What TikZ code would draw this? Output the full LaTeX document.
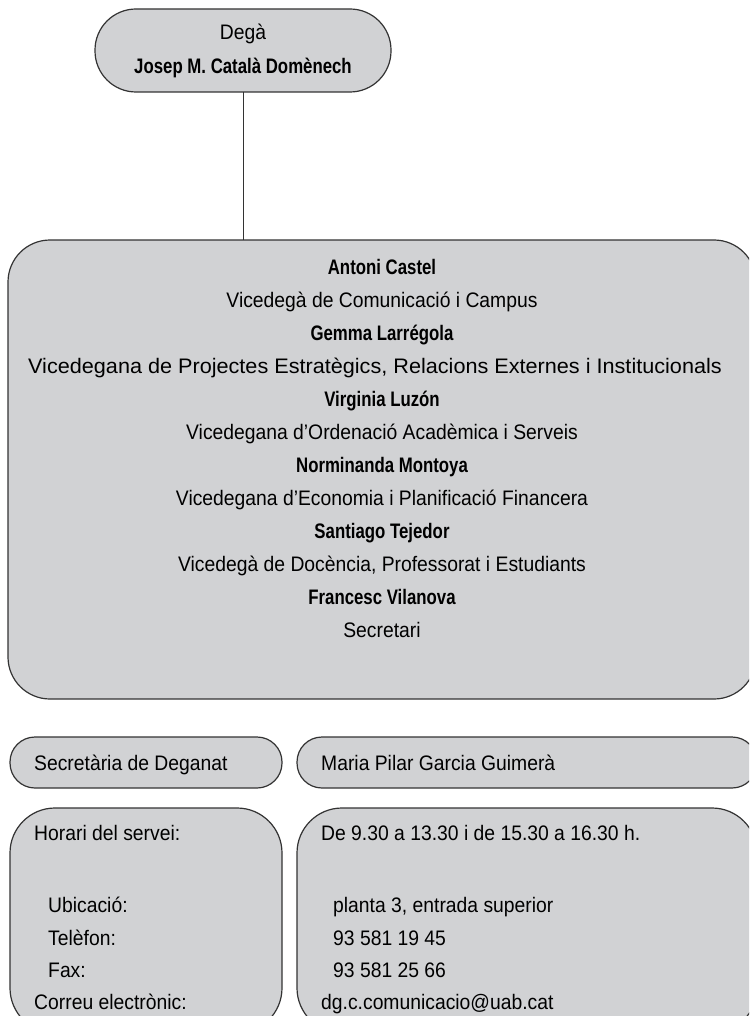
\documentclass[tikz,border=0pt]{standalone}
\usepackage{fontspec}
\setmainfont{Liberation Sans}[FakeStretch=0.92, BoldFeatures={FakeStretch=0.80}]
\definecolor{boxfill}{HTML}{D1D2D4}
\definecolor{boxline}{HTML}{333333}
\tikzset{
  panel/.style={draw=boxline, fill=boxfill, line width=1.2pt},
  txt/.style={inner sep=0pt, anchor=base, font=\fontsize{21}{25}\selectfont},
  txtl/.style={inner sep=0pt, anchor=base west, font=\fontsize{21}{25}\selectfont},
  person/.style={inner sep=0pt, anchor=base, font=\fontsize{21}{25}\selectfont\bfseries},
  link/.style={draw=boxline, line width=1pt}
}
\begin{document}
\begin{tikzpicture}[x=1pt,y=-1pt]
\useasboundingbox (0,0) rectangle (749,1016);
\clip (0,0) rectangle (749,1016);
% Dean box
\path[panel, rounded corners=41pt] (95,9) rectangle (391,92);
\coordinate (deanbot) at (243,92);
\node[txt] (dean) at (243,40) {Degà};
\node[person] (deanname) at (243,74) {Josep M. Català Domènech};
% main box
\path[panel, rounded corners=42pt] (8,240) rectangle (756,699);
\coordinate (maintop) at (243,240);
\draw[link] (deanbot) -- (maintop);
\node[person] (n1) at (382,274) {Antoni Castel};
\node[txt]  (r1) at (382,307) {Vicedegà de Comunicació i Campus};
\node[person] (n2) at (382,340) {Gemma Larrégola};
\node[txt]  (r2) at (375,373) {\scalebox{1.12}[1]{Vicedegana de Projectes Estratègics, Relacions Externes i Institucionals}};
\node[person] (n3) at (382,406) {Virginia Luzón};
\node[txt]  (r3) at (382,439) {Vicedegana d’Ordenació Acadèmica i Serveis};
\node[person] (n4) at (382,472) {Norminanda Montoya};
\node[txt]  (r4) at (382,505) {Vicedegana d’Economia i Planificació Financera};
\node[person] (n5) at (382,538) {Santiago Tejedor};
\node[txt]  (r5) at (382,571) {Vicedegà de Docència, Professorat i Estudiants};
\node[person] (n6) at (382,604) {Francesc Vilanova};
\node[txt]  (r6) at (382,637) {Secretari};
% secretaria row
\path[panel, rounded corners=25pt] (10,737) rectangle (282,788);
\path[panel, rounded corners=25pt] (297,737) rectangle (757,788);
\node[txtl] (sec) at (34,770) {Secretària de Deganat};
\node[txtl] (secname) at (321,770) {Maria Pilar Garcia Guimerà};
% info boxes
\path[panel, rounded corners=45pt] (10,808) rectangle (282,1033);
\path[panel, rounded corners=45pt] (297,808) rectangle (757,1033);
\node[txtl] (l1) at (34,840) {Horari del servei:};
\node[txtl] (l2) at (48,912) {Ubicació:};
\node[txtl] (l3) at (48,945) {Telèfon:};
\node[txtl] (l4) at (48,977) {Fax:};
\node[txtl] (l5) at (34,1009) {Correu electrònic:};
\node[txtl] (v1) at (321,840) {De 9.30 a 13.30 i de 15.30 a 16.30 h.};
\node[txtl] (v2) at (333,912) {planta 3, entrada superior};
\node[txtl] (v3) at (333,945) {93 581 19 45};
\node[txtl] (v4) at (333,977) {93 581 25 66};
\node[txtl] (v5) at (321,1009) {dg.c.comunicacio@uab.cat};
\end{tikzpicture}
\end{document}
